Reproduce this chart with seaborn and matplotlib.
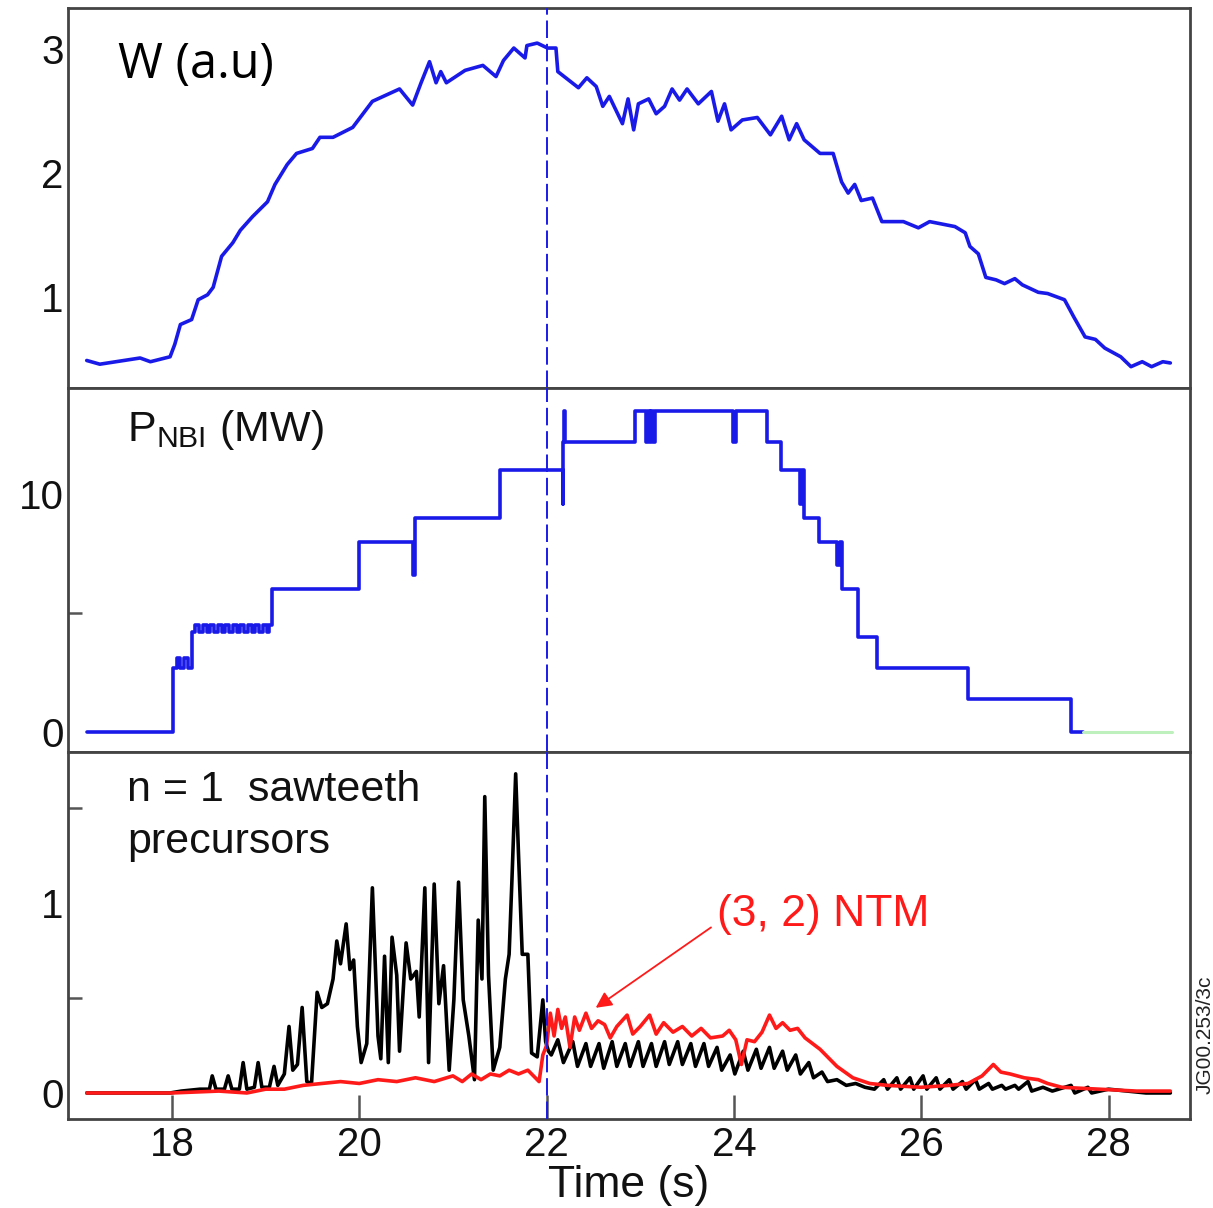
import matplotlib
matplotlib.use("Agg")
import matplotlib.pyplot as plt
import seaborn as sns
import pandas as pd

# ---------------- data ----------------
w_time = [17.09, 17.23, 17.66, 17.77, 17.98, 18.03, 18.09, 18.21, 18.28, 18.38, 18.44, 18.53,
          18.65, 18.73, 18.86, 19.02, 19.10, 19.23, 19.33, 19.50, 19.58, 19.72, 19.93, 20.14,
          20.43, 20.57, 20.66, 20.75, 20.82, 20.87, 20.93, 21.13, 21.32, 21.46, 21.54, 21.65,
          21.77, 21.79, 21.90, 22.01, 22.10, 22.12, 22.34, 22.43, 22.53, 22.60, 22.67, 22.81,
          22.87, 22.93, 22.98, 23.09, 23.17, 23.26, 23.34, 23.42, 23.50, 23.62, 23.76, 23.83,
          23.90, 23.97, 24.09, 24.25, 24.39, 24.51, 24.59, 24.67, 24.75, 24.92, 25.06, 25.15,
          25.22, 25.29, 25.36, 25.48, 25.58, 25.81, 25.97, 26.09, 26.36, 26.47, 26.52, 26.61,
          26.69, 26.80, 26.89, 27.00, 27.08, 27.25, 27.35, 27.53, 27.63, 27.75, 27.86, 27.96,
          28.13, 28.24, 28.36, 28.46, 28.58, 28.66]
w_val = [0.49, 0.46, 0.51, 0.48, 0.52, 0.62, 0.78, 0.82, 0.98, 1.02, 1.08, 1.33,
         1.44, 1.54, 1.65, 1.77, 1.91, 2.07, 2.16, 2.20, 2.29, 2.29, 2.37, 2.58,
         2.68, 2.55, 2.73, 2.90, 2.73, 2.82, 2.73, 2.83, 2.87, 2.78, 2.91, 3.01,
         2.93, 3.03, 3.05, 3.01, 3.01, 2.82, 2.69, 2.77, 2.70, 2.54, 2.62, 2.40,
         2.60, 2.35, 2.56, 2.60, 2.48, 2.54, 2.68, 2.59, 2.68, 2.56, 2.66, 2.42,
         2.56, 2.35, 2.43, 2.45, 2.31, 2.46, 2.27, 2.40, 2.27, 2.16, 2.16, 1.93,
         1.84, 1.91, 1.78, 1.80, 1.61, 1.61, 1.56, 1.61, 1.57, 1.52, 1.41, 1.35,
         1.16, 1.14, 1.11, 1.15, 1.10, 1.04, 1.03, 0.98, 0.84, 0.68, 0.66, 0.59,
         0.52, 0.44, 0.48, 0.44, 0.48, 0.47]

pnbi_time = [17.09, 18.01, 18.05, 18.09, 18.13, 18.17, 18.21, 18.25, 18.29, 18.33, 18.37,
             18.41, 18.45, 18.49, 18.53, 18.57, 18.61, 18.65, 18.69, 18.73, 18.77, 18.81,
             18.85, 18.89, 18.93, 18.97, 19.01, 19.04, 19.07,
             20.00, 20.57, 20.60, 21.50, 22.17, 22.18, 22.19, 22.20, 22.94, 23.06, 23.08,
             23.10, 23.12, 23.14, 23.16, 23.99, 24.02, 24.35, 24.50, 24.71, 24.73, 24.75,
             24.91, 25.10, 25.13, 25.15, 25.33, 25.53, 26.50, 27.60, 27.73]
pnbi_val = [0.0, 2.7, 3.1, 2.7, 3.1, 2.7, 4.2, 4.5, 4.2, 4.5, 4.2,
            4.5, 4.2, 4.5, 4.2, 4.5, 4.2, 4.5, 4.2, 4.5, 4.2, 4.5,
            4.2, 4.5, 4.2, 4.5, 4.2, 4.5, 6.0,
            8.0, 6.6, 9.0, 11.0, 9.6, 12.2, 13.5, 12.2, 13.5, 12.2, 13.5,
            12.2, 13.5, 12.2, 13.5, 12.2, 13.5, 12.2, 11.0, 9.6, 11.0, 9.0,
            8.0, 7.0, 8.0, 6.0, 4.0, 2.7, 1.4, 0.0, 0.0]
pnbi_off_time = [27.73, 28.68]
pnbi_off_val = [0.0, 0.0]

n1_time = [17.09, 17.50, 17.98, 18.10, 18.30, 18.40, 18.43, 18.47, 18.56, 18.60, 18.64, 18.72,
           18.76, 18.80, 18.88, 18.92, 18.96, 19.04, 19.09, 19.13, 19.20, 19.25, 19.29, 19.34,
           19.39, 19.44, 19.49, 19.55, 19.60, 19.66, 19.72, 19.76, 19.80, 19.86, 19.90, 19.94,
           19.98, 20.02, 20.08, 20.14, 20.20, 20.23, 20.27, 20.31, 20.35, 20.40, 20.43, 20.50,
           20.55, 20.61, 20.64, 20.70, 20.74, 20.80, 20.85, 20.90, 20.96, 21.01, 21.06, 21.11,
           21.17, 21.23, 21.27, 21.31, 21.34, 21.38, 21.43, 21.50, 21.56, 21.60, 21.63, 21.67,
           21.70, 21.74, 21.80, 21.84, 21.90, 21.96, 21.99, 22.02,
           22.05, 22.12, 22.18, 22.28, 22.33, 22.42, 22.47, 22.56, 22.61, 22.70, 22.75, 22.84,
           22.89, 22.98, 23.03, 23.12, 23.17, 23.26, 23.31, 23.40, 23.45, 23.54, 23.59, 23.68,
           23.73, 23.82, 23.87, 23.96, 24.01, 24.10, 24.15, 24.24, 24.29, 24.38, 24.43, 24.52,
           24.57, 24.66, 24.71, 24.80, 24.85, 24.94, 25.00, 25.10, 25.20, 25.30, 25.40, 25.50,
           25.60, 25.64, 25.74, 25.78, 25.88, 25.92, 26.02, 26.06, 26.16, 26.20, 26.30, 26.34,
           26.44, 26.48, 26.58, 26.62, 26.72, 26.76, 26.86, 26.90, 27.00, 27.04, 27.14, 27.18,
           27.30, 27.40, 27.60, 27.64, 27.78, 27.82, 28.00, 28.20, 28.40, 28.66]
n1_val = [0.0, 0.0, 0.0, 0.01, 0.02, 0.02, 0.09, 0.02, 0.02, 0.09, 0.02, 0.02,
          0.16, 0.02, 0.03, 0.16, 0.03, 0.03, 0.14, 0.04, 0.10, 0.35, 0.12, 0.15,
          0.45, 0.06, 0.05, 0.53, 0.45, 0.47, 0.60, 0.80, 0.68, 0.89, 0.65, 0.70,
          0.35, 0.16, 0.26, 1.08, 0.30, 0.18, 0.72, 0.16, 0.82, 0.62, 0.22, 0.79,
          0.60, 0.64, 0.40, 1.08, 0.16, 1.10, 0.47, 0.67, 0.12, 0.49, 1.11, 0.49,
          0.30, 0.07, 0.91, 0.60, 1.56, 0.62, 0.12, 0.24, 0.60, 0.73, 1.12, 1.68,
          1.26, 0.73, 0.73, 0.21, 0.19, 0.49, 0.27, 0.22,
          0.20, 0.28, 0.16, 0.27, 0.14, 0.26, 0.14, 0.26, 0.13, 0.27, 0.14, 0.26,
          0.14, 0.27, 0.14, 0.26, 0.14, 0.27, 0.15, 0.27, 0.15, 0.26, 0.14, 0.26,
          0.14, 0.24, 0.12, 0.20, 0.10, 0.22, 0.12, 0.23, 0.13, 0.24, 0.13, 0.22,
          0.12, 0.20, 0.10, 0.16, 0.08, 0.11, 0.06, 0.07, 0.04, 0.05, 0.03, 0.02,
          0.07, 0.02, 0.08, 0.02, 0.08, 0.02, 0.09, 0.02, 0.08, 0.02, 0.07, 0.02,
          0.06, 0.02, 0.07, 0.02, 0.05, 0.02, 0.04, 0.02, 0.04, 0.02, 0.06, 0.01,
          0.03, 0.01, 0.04, 0.00, 0.03, 0.00, 0.02, 0.01, 0.00, 0.00]

ntm_time = [17.09, 18.00, 18.50, 18.80, 19.00, 19.20, 19.40, 19.60, 19.80, 20.00, 20.20, 20.40,
            20.60, 20.80, 21.00, 21.10, 21.20, 21.30, 21.40, 21.50, 21.60, 21.70, 21.80, 21.88,
            21.92, 21.96, 22.00, 22.04, 22.08, 22.12, 22.16, 22.20, 22.25, 22.30, 22.35, 22.42,
            22.48, 22.55, 22.62, 22.68, 22.75, 22.86, 22.92, 23.00, 23.10, 23.17, 23.25, 23.35,
            23.45, 23.55, 23.65, 23.75, 23.88, 23.95, 24.02, 24.08, 24.14, 24.22, 24.30, 24.38,
            24.45, 24.52, 24.60, 24.68, 24.76, 24.92, 25.10, 25.27, 25.45, 25.64, 26.00, 26.30,
            26.50, 26.65, 26.77, 26.85, 26.95, 27.10, 27.25, 27.35, 27.50, 27.90, 28.30, 28.66]
ntm_val = [0.0, 0.0, 0.01, 0.0, 0.02, 0.02, 0.04, 0.05, 0.06, 0.05, 0.07, 0.06,
           0.08, 0.06, 0.09, 0.06, 0.10, 0.07, 0.10, 0.09, 0.12, 0.10, 0.12, 0.08,
           0.06, 0.20, 0.25, 0.42, 0.30, 0.44, 0.34, 0.40, 0.24, 0.40, 0.33, 0.42,
           0.34, 0.38, 0.36, 0.29, 0.35, 0.41, 0.31, 0.35, 0.41, 0.31, 0.37, 0.32,
           0.35, 0.30, 0.34, 0.29, 0.30, 0.33, 0.28, 0.15, 0.28, 0.27, 0.32, 0.41,
           0.34, 0.37, 0.33, 0.34, 0.29, 0.23, 0.14, 0.08, 0.05, 0.04, 0.03, 0.04,
           0.05, 0.09, 0.15, 0.11, 0.10, 0.08, 0.07, 0.05, 0.03, 0.02, 0.01, 0.01]

x_ticks = [18, 20, 22, 24, 26, 28]
event_time = 22.0

# ---------------- style ----------------
sns.set_theme(style="white")
plt.rcParams['font.family'] = ['Liberation Sans', 'DejaVu Sans']
plt.rcParams['mathtext.fontset'] = 'custom'
plt.rcParams['mathtext.rm'] = 'Liberation Sans'
plt.rcParams['axes.linewidth'] = 2.0
plt.rcParams['axes.edgecolor'] = '#444444'

BLUE = '#1a1ae8'
RED = '#ff1a1a'
FS = 29

fig, axes = plt.subplots(3, 1, figsize=(12.13, 12.08), dpi=100, sharex=True,
                         gridspec_kw=dict(height_ratios=[380, 364, 367], hspace=0))
fig.subplots_adjust(left=68 / 1213, right=1190 / 1213, top=1 - 8 / 1208, bottom=1 - 1119 / 1208)
ax1, ax2, ax3 = axes

sns.lineplot(x=w_time, y=w_val, ax=ax1, color=BLUE, lw=2.6, estimator=None, sort=False)
sns.lineplot(x=pnbi_time, y=pnbi_val, ax=ax2, color=BLUE, lw=2.6, estimator=None, sort=False,
             drawstyle='steps-post')
sns.lineplot(x=pnbi_off_time, y=pnbi_off_val, ax=ax2, color='#bdf0bd', lw=2.2, estimator=None, sort=False)
sns.lineplot(x=n1_time, y=n1_val, ax=ax3, color='black', lw=2.6, estimator=None, sort=False)
sns.lineplot(x=ntm_time, y=ntm_val, ax=ax3, color=RED, lw=2.6, estimator=None, sort=False)

for ax in axes:
    ax.axvline(event_time, color=BLUE, lw=1.4, dashes=(9, 3), zorder=5)
    ax.set_xlim(16.89, 28.87)
    for s in ax.spines.values():
        s.set_visible(True)
    ax.tick_params(axis='y', which='major', direction='in', length=20, width=1.8,
                   color='#555555', labelsize=FS, pad=3, labelcolor='#111111')
    ax.tick_params(axis='y', which='minor', direction='in', length=10, width=1.8,
                   color='#555555', left=True)
    ax.set_ylabel('')
    ax.set_xlabel('')

ax1.set_ylim(0.268, 3.333)
ax1.set_yticks([1, 2, 3])
ax2.set_ylim(-0.83, 14.45)
ax2.set_yticks([0, 10])
ax2.set_yticks([5], minor=True)
ax3.set_ylim(-0.137, 1.795)
ax3.set_yticks([0, 1])
ax3.set_yticks([0.5, 1.5], minor=True)

for ax in (ax1, ax2):
    ax.tick_params(axis='x', which='both', bottom=False, labelbottom=False)
ax3.set_xticks(x_ticks)
ax3.set_xticklabels([str(t) for t in x_ticks])
ax3.tick_params(axis='x', which='major', direction='in', length=17, width=1.8,
                color='#555555', labelsize=FS, pad=5, labelcolor='#111111', bottom=True)
ax3.set_xlabel('Time (s)', fontsize=32, labelpad=1, color='#111111')

# annotations
ax1.text(17.42, 2.87, 'W (a.u)', fontsize=35, family=['Open Sans', 'DejaVu Sans'],
         weight='medium', color='black', va='center', ha='left')
ax2.text(17.52, 12.69, r'P$_\mathregular{NBI}$ (MW)', fontsize=31, color='#111111',
         va='center', ha='left')
ax3.text(17.52, 1.595, 'n = 1  sawteeth', fontsize=31, color='#111111', va='center', ha='left')
ax3.text(17.52, 1.32, 'precursors', fontsize=31, color='#111111', va='center', ha='left')
ax3.text(23.82, 0.937, '(3, 2) NTM', fontsize=32, color=RED, va='center', ha='left')
ax3.annotate('', xy=(22.50, 0.44), xytext=(23.78, 0.88),
             arrowprops=dict(arrowstyle='-|>', color=RED, lw=1.3, mutation_scale=24))

fig.text(1205 / 1213, 1 - 1035 / 1208, 'JG00.253/3c', rotation=90, fontsize=15,
         ha='center', va='center', color='#222222')

fig.savefig('out.png', dpi=100)
